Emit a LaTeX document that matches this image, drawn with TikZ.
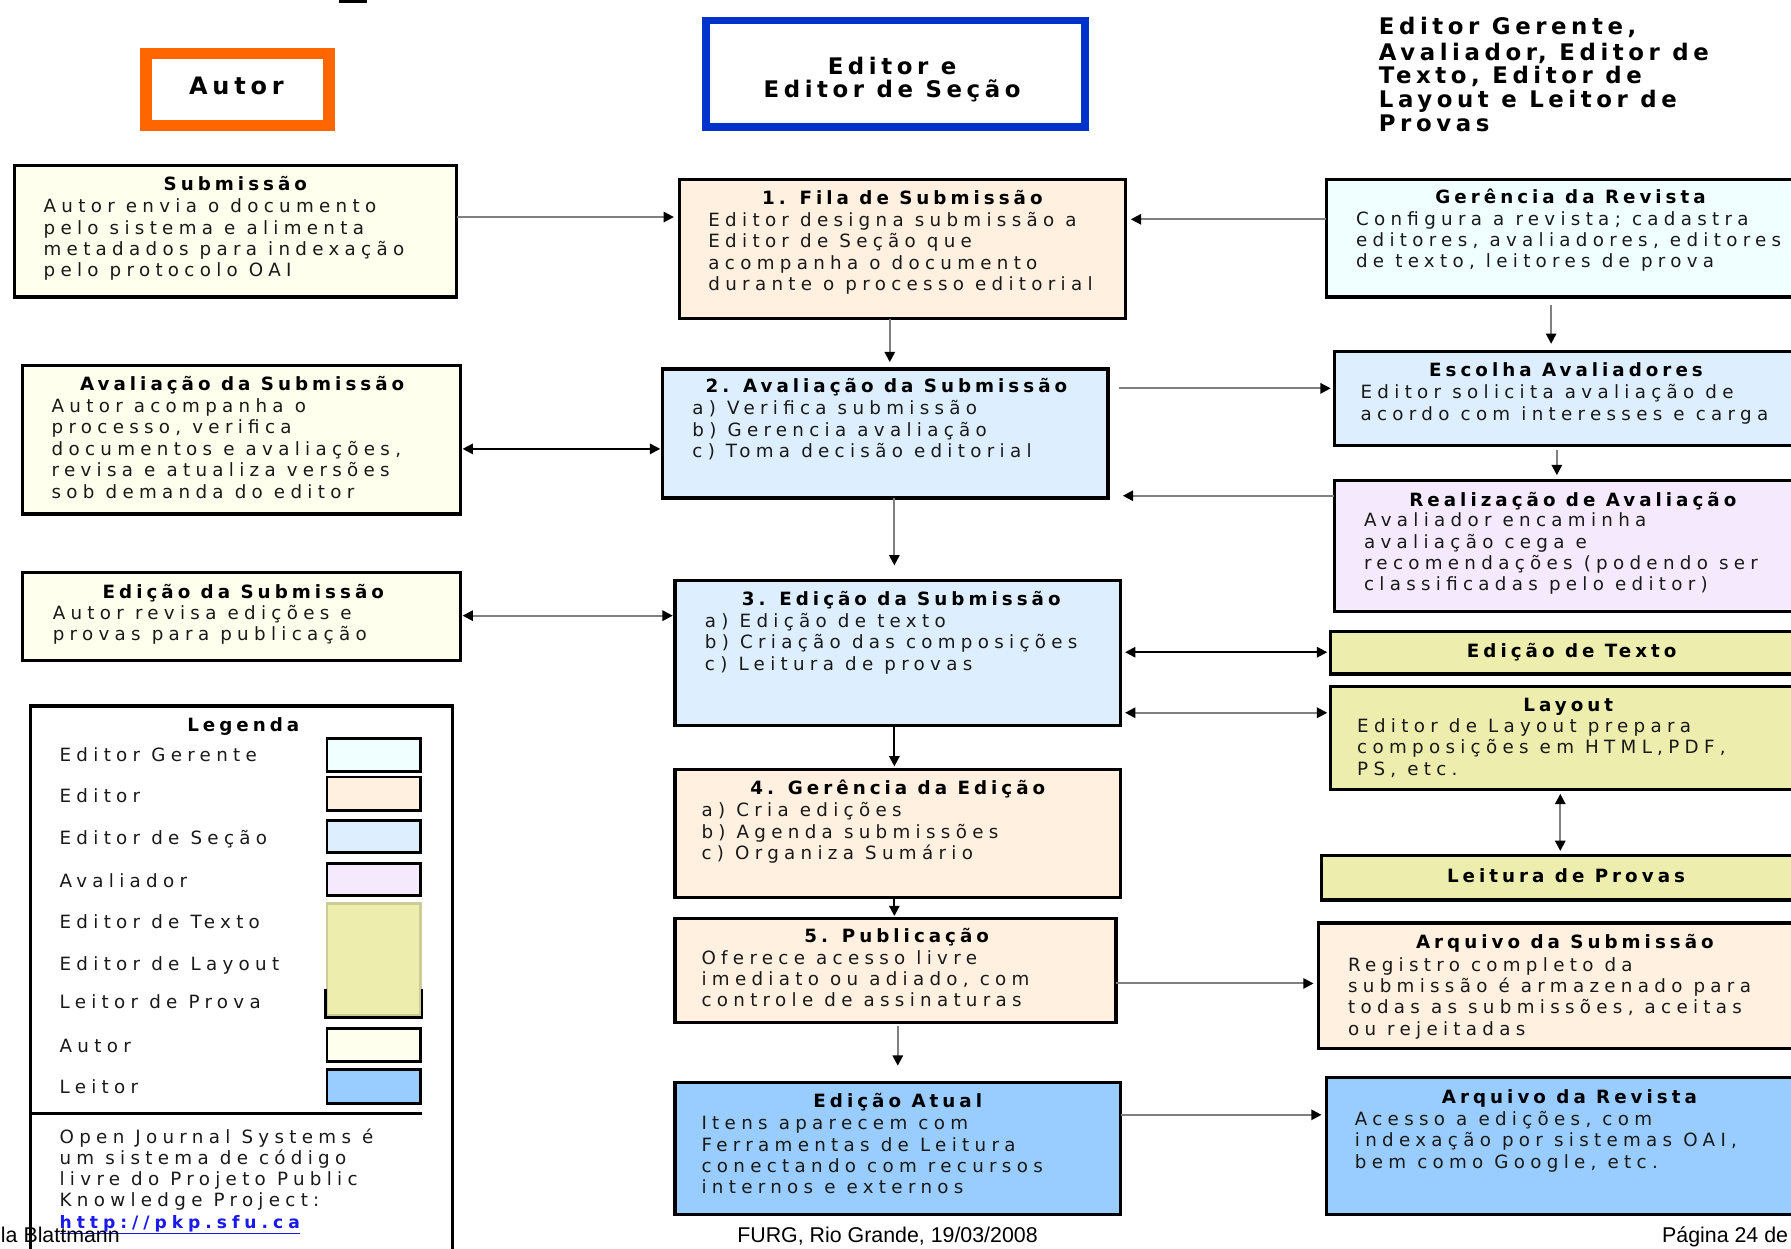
\documentclass[tikz,border=0pt]{standalone}
\usepackage{fontspec}
\setmainfont{DejaVu Sans}
\newfontfamily\bodyf{DejaVu Sans}[LetterSpace=29]
\newfontfamily\ttlf{DejaVu Sans}[LetterSpace=22]
\newfontfamily\hdrf{DejaVu Sans}[LetterSpace=20]
\newfontfamily\footf{Liberation Sans}
\usetikzlibrary{arrows.meta}
\definecolor{peach}{HTML}{FFF0E0}
\definecolor{secao}{HTML}{DDEEFF}
\definecolor{gerente}{HTML}{F0FFFF}
\definecolor{avalc}{HTML}{F5EAFD}
\definecolor{yel}{HTML}{EDEDAD}
\definecolor{yelside}{HTML}{CCCC99}
\definecolor{autc}{HTML}{FFFFEE}
\definecolor{leit}{HTML}{99CCFF}
\definecolor{orng}{HTML}{FF6600}
\definecolor{blu}{HTML}{0033CC}
\definecolor{lgray}{HTML}{808080}
\definecolor{linkc}{HTML}{1A1AEE}
\tikzset{
  mytip/.tip={Triangle[length=9pt,width=9pt,color=black]},
  box/.style={draw=black, line width=2.8pt, anchor=north west, inner sep=0pt, outer sep=0pt},
  ttl/.style={font=\ttlf\bfseries\fontsize{16}{18.7}\selectfont, anchor=base, inner sep=0pt},
  txt/.style={font=\bodyf\fontsize{16}{18.7}\selectfont, align=left, anchor=north west, inner sep=0pt, text=black!90},
  lab/.style={font=\bodyf\fontsize{16}{18.7}\selectfont, anchor=base west, inner sep=0pt, text=black!90},
  swatch/.style={draw=black, line width=2.5pt, anchor=north west, inner sep=0pt, minimum width=82pt},
  hdr/.style={font=\hdrf\bfseries\fontsize{20}{20}\selectfont, align=center, inner sep=0pt},
  foot/.style={font=\footf\fontsize{18.7}{22}\selectfont, inner sep=0pt},
  gline/.style={draw=lgray, line width=1.8pt},
  bline/.style={draw=black, line width=1.8pt},
}
\begin{document}
\begin{tikzpicture}[x=1pt,y=-1pt]
\useasboundingbox (0,0) rectangle (1568,1093);
\clip (0,0) rectangle (1568,1093);
\fill[white] (0,0) rectangle (1568,1093);
% fragment at top
\fill[black] (297,0) rectangle (321,2.5);

% ===== headers =====
\node[draw=orng, line width=10pt, minimum width=160pt, minimum height=63pt, inner sep=0pt] (autorh) at (208,78.5) {};
\node[hdr, font=\hdrf\bfseries\fontsize{21}{21}\selectfont, anchor=base] (autorh-t) at (207,83) {Autor};
\node[draw=blu, line width=6.5pt, minimum width=332pt, minimum height=93pt, inner sep=0pt] (edh) at (784,64.5) {};
\node[hdr, anchor=base] (edh-t1) at (781,65) {Editor e};
\node[hdr, anchor=base] (edh-t2) at (781,85) {Editor de Seção};
\node[hdr, align=left, anchor=north west, font=\hdrf\bfseries\fontsize{20}{20.75}\selectfont] (rolesh) at (1207,14.8)
  {\strut Editor Gerente,\\Avaliador, Editor de\\Texto, Editor de\\Layout e Leitor de\\Provas};

% ===== left column (Autor) =====
\node[box, fill=autc, minimum width=387pt, minimum height=115pt] (sub) at (13,145) {};
\node[ttl] (sub-t) at (206,167) {Submissão};
\node[txt] (sub-b) at (38,172.9) {\strut Autor envia o documento\\pelo sistema e alimenta\\metadados para indexação\\pelo protocolo OAI};

\node[box, fill=autc, minimum width=383pt, minimum height=130pt] (aval) at (20,320) {};
\node[ttl] (aval-t) at (212,342) {Avaliação da Submissão};
\node[txt] (aval-b) at (45,347.9) {\strut Autor acompanha o\\processo, verifica\\documentos e avaliações,\\revisa e atualiza versões\\sob demanda do editor};

\node[box, fill=autc, minimum width=383pt, minimum height=77pt] (edic) at (20,501) {};
\node[ttl] (edic-t) at (213,524) {Edição da Submissão};
\node[txt] (edic-b) at (46,528.9) {\strut Autor revisa edições e\\provas para publicação};

% ===== legend =====
\node[box, fill=white, minimum width=369pt, minimum height=520pt] (leg) at (27,618) {};
\node[ttl] (leg-t) at (213,640) {Legenda};
\node[swatch, fill=gerente, minimum height=29pt] (sw1) at (285,645) {};
\node[swatch, fill=peach, minimum height=29pt] (sw2) at (285,679) {};
\node[swatch, fill=secao, minimum height=28pt] (sw3) at (285,717) {};
\node[swatch, fill=avalc, minimum height=28pt] (sw4) at (285,755) {};
\node[swatch, draw=yelside, fill=yel, minimum height=98pt] (sw5) at (285,790) {};
\draw[line width=2.5pt] (sw5.south west) ++(0,-25) -- (sw5.south west) -- (sw5.south east) -- ++(0,-25);
\node[swatch, fill=autc, minimum height=29pt] (sw6) at (285,899) {};
\node[swatch, fill=leit, minimum height=30pt] (sw7) at (285,935) {};
\node[lab] (lb1) at (52,667) {Editor Gerente};
\node[lab] (lb2) at (52,703) {Editor};
\node[lab] (lb3) at (52,739) {Editor de Seção};
\node[lab] (lb4) at (52,777) {Avaliador};
\node[lab] (lb5) at (52,813) {Editor de Texto};
\node[lab] (lb6) at (52,850) {Editor de Layout};
\node[lab] (lb7) at (52,883) {Leitor de Prova};
\node[lab] (lb8) at (52,921) {Autor};
\node[lab] (lb9) at (52,957) {Leitor};
\draw[line width=2.8pt] (leg.west |- 0,975) -- (sw7.east |- 0,975);
\node[txt, font=\bodyf\fontsize{16}{18.5}\selectfont] (ojs) at (52,988) {\strut Open Journal Systems é\\um sistema de código\\livre do Projeto Public\\Knowledge Project:\\{\color{linkc}\fontsize{15}{18.5}\selectfont\bfseries\underline{http://pkp.sfu.ca}}};

% ===== center column =====
\node[box, fill=peach, minimum width=390pt, minimum height=122pt] (fila) at (595,157) {};
\node[ttl] (fila-t) at (790,179) {1. Fila de Submissão};
\node[txt] (fila-b) at (620,184.9) {\strut Editor designa submissão a\\Editor de Seção que\\acompanha o documento\\durante o processo editorial};

\node[box, fill=secao, minimum width=390pt, minimum height=113pt] (av2) at (580,323) {};
\node[ttl] (av2-t) at (776,344) {2. Avaliação da Submissão};
\node[txt] (av2-b) at (606,349.9) {\strut a) Verifica submissão\\b) Gerencia avaliação\\c) Toma decisão editorial};

\node[box, fill=secao, minimum width=390pt, minimum height=127pt] (ed3) at (591,508) {};
\node[ttl] (ed3-t) at (789,530) {3. Edição da Submissão};
\node[txt] (ed3-b) at (617,535.9) {\strut a) Edição de texto\\b) Criação das composições\\c) Leitura de provas};

\node[box, fill=peach, minimum width=390pt, minimum height=112pt] (ge4) at (591,674) {};
\node[ttl] (ge4-t) at (786,696) {4. Gerência da Edição};
\node[txt] (ge4-b) at (614,701.9) {\strut a) Cria edições\\b) Agenda submissões\\c) Organiza Sumário};

\node[box, fill=peach, minimum width=386pt, minimum height=91pt] (pub5) at (591,804) {};
\node[ttl] (pub5-t) at (785,825) {5. Publicação};
\node[txt] (pub5-b) at (614,830.9) {\strut Oferece acesso livre\\imediato ou adiado, com\\controle de assinaturas};

\node[box, fill=leit, minimum width=390pt, minimum height=115pt] (atual) at (591,948) {};
\node[ttl] (atual-t) at (786,970) {Edição Atual};
\node[txt] (atual-b) at (614,975.9) {\strut Itens aparecem com\\Ferramentas de Leitura\\conectando com recursos\\internos e externos};

% ===== right column =====
\node[box, fill=gerente, minimum width=450pt, minimum height=103pt] (gr) at (1161,157) {};
\node[ttl] (gr-t) at (1375,178) {Gerência da Revista};
\node[txt] (gr-b) at (1187,183.9) {\strut Configura a revista; cadastra\\editores, avaliadores, editores\\de texto, leitores de prova};

\node[box, fill=secao, minimum width=450pt, minimum height=82pt] (esc) at (1168,308) {};
\node[ttl] (esc-t) at (1371,330) {Escolha Avaliadores};
\node[txt] (esc-b) at (1191,335.9) {\strut Editor solicita avaliação de\\acordo com interesses e carga};

\node[box, fill=avalc, minimum width=450pt, minimum height=114pt] (real) at (1168,421) {};
\node[ttl] (real-t) at (1377,443) {Realização de Avaliação};
\node[txt] (real-b) at (1194,447.9) {\strut Avaliador encaminha\\avaliação cega e\\recomendações (podendo ser\\classificadas pelo editor)};

\node[box, fill=yel, minimum width=450pt, minimum height=37pt] (etx) at (1165,553) {};
\node[ttl] (etx-t) at (1376,576) {Edição de Texto};

\node[box, fill=yel, minimum width=450pt, minimum height=90pt] (lay) at (1165,601) {};
\node[ttl] (lay-t) at (1373,623) {Layout};
\node[txt] (lay-b) at (1188,627.9) {\strut Editor de Layout prepara\\composições em HTML,PDF,\\PS, etc.};

\node[box, fill=yel, minimum width=450pt, minimum height=39pt] (lp) at (1157,749) {};
\node[ttl] (lp-t) at (1371,773) {Leitura de Provas};

\node[box, fill=peach, minimum width=450pt, minimum height=110pt] (as) at (1154,808) {};
\node[ttl] (as-t) at (1370,830) {Arquivo da Submissão};
\node[txt] (as-b) at (1180,836.9) {\strut Registro completo da\\submissão é armazenado para\\todas as submissões, aceitas\\ou rejeitadas};

\node[box, fill=leit, minimum width=450pt, minimum height=120pt] (ar) at (1161,943) {};
\node[ttl] (ar-t) at (1374,966) {Arquivo da Revista};
\node[txt] (ar-b) at (1186,971.9) {\strut Acesso a edições, com\\indexação por sistemas OAI,\\bem como Google, etc.};

% ===== connectors =====
\draw[gline, -mytip, shorten >=5pt] (sub.east |- 0,190) -- (fila.west |- 0,190);
\draw[gline, -mytip, shorten >=5pt] (gr.west |- 0,192) -- (fila.east |- 0,192);
\draw[gline, -mytip, shorten >=6pt] (fila.south -| 779,0) -- (av2.north -| 779,0);
\draw[bline, mytip-mytip, shorten <=2pt, shorten >=2pt] (aval.east |- 0,393) -- (av2.west |- 0,393);
\draw[gline, -mytip, shorten <=10pt, shorten >=3pt] (av2.east |- 0,340) -- (esc.west |- 0,340);
\draw[gline, -mytip, shorten <=7pt, shorten >=7pt] (gr.south -| 1358,0) -- (esc.north -| 1358,0);
\draw[gline, -mytip, shorten <=4pt, shorten >=5pt] (esc.south -| 1363,0) -- (real.north -| 1363,0);
\draw[gline, -mytip, shorten >=13pt] (real.west |- 0,434) -- (av2.east |- 0,434);
\draw[gline, -mytip, shorten >=13pt] (av2.south -| 783,0) -- (ed3.north -| 783,0);
\draw[gline, mytip-mytip, shorten <=2pt, shorten >=2pt] (edic.east |- 0,539) -- (ed3.west |- 0,539);
\draw[bline, mytip-mytip, shorten <=4pt, shorten >=3pt] (ed3.east |- 0,571) -- (etx.west |- 0,571);
\draw[gline, mytip-mytip, shorten <=4pt, shorten >=3pt] (ed3.east |- 0,624) -- (lay.west |- 0,624);
\draw[gline, mytip-mytip, shorten <=4pt, shorten >=4pt] (lay.south -| 1366,0) -- (lp.north -| 1366,0);
\draw[bline, -mytip, shorten >=3pt] (ed3.south -| 783,0) -- (ge4.north -| 783,0);
\draw[bline, -mytip, shorten >=2pt] (ge4.south -| 783,0) -- (pub5.north -| 783,0);
\draw[gline, -mytip, shorten <=3pt, shorten >=15pt] (pub5.south -| 786,0) -- (atual.north -| 786,0);
\draw[gline, -mytip, shorten >=4pt] (pub5.east |- 0,861) -- (as.west |- 0,861);
\draw[gline, -mytip, shorten >=4pt] (atual.east |- 0,976) -- (ar.west |- 0,976);

% ===== footer =====
\node[foot, anchor=base east] (ft1) at (105,1088) {la Blattmann};
\node[foot, anchor=base] (ft2) at (777,1088) {FURG, Rio Grande, 19/03/2008};
\node[foot, anchor=base west] (ft3) at (1455,1088) {Página 24 de};
\end{tikzpicture}
\end{document}
